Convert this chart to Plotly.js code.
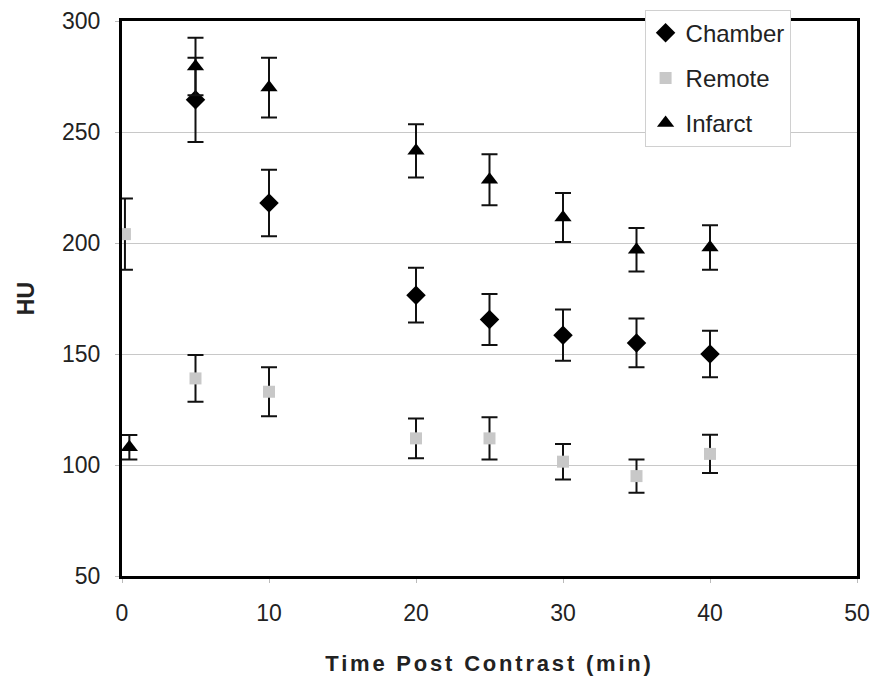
<!DOCTYPE html>
<html>
<head>
<meta charset="utf-8">
<script src="https://cdn.plot.ly/plotly-3.0.1.min.js"></script>
<style>html,body{margin:0;padding:0;background:#fff;}#chart{width:874px;height:677px;}
.xtitle{letter-spacing:2.8px;}</style>
</head>
<body>
<div id="chart"></div>
<script>
// Data
const chamberX = [5, 10, 20, 25, 30, 35, 40];
const chamberY = [264.5, 218, 176.5, 165.5, 158.5, 155, 150];
const chamberErr = [19, 15, 12.3, 11.5, 11.5, 11, 10.5];

const remoteX = [0.2, 5, 10, 20, 25, 30, 35, 40];
const remoteY = [204, 139, 133, 112, 112, 101.5, 95, 105];
const remoteErr = [16, 10.5, 11, 9, 9.5, 8, 7.5, 8.6];

const infarctX = [0.5, 5, 10, 20, 25, 30, 35, 40];
const infarctY = [108, 279.5, 270, 241.5, 228.5, 211.5, 197, 198];
const infarctErr = [5.5, 13, 13.5, 12, 11.5, 11, 9.8, 10];

const errStyle = (arr) => ({type: 'data', array: arr, visible: true, color: '#111', thickness: 2, width: 8});

const traces = [
  {x: chamberX, y: chamberY, name: 'Chamber', mode: 'markers', type: 'scatter', legendgroup: 'a', cliponaxis: false,
   marker: {symbol: 'diamond', size: 15, color: '#000'}, error_y: errStyle(chamberErr)},
  {x: remoteX, y: remoteY, name: 'Remote', mode: 'markers', type: 'scatter', legendgroup: 'b', cliponaxis: false,
   marker: {symbol: 'square', size: 12, color: '#c8c8c8'}, error_y: errStyle(remoteErr)},
  {x: infarctX, y: infarctY, name: 'Infarct', mode: 'markers', type: 'scatter', legendgroup: 'c', cliponaxis: false,
   marker: {symbol: 'triangle-up', size: 15, color: '#000'}, error_y: errStyle(infarctErr)}
];

const layout = {
  width: 874, height: 677,
  margin: {l: 122, r: 17, t: 21, b: 101, autoexpand: false},
  paper_bgcolor: '#fff', plot_bgcolor: '#fff',
  font: {family: '"Liberation Sans", Arial, sans-serif', color: '#222', size: 23},
  showlegend: true,
  legend: {x: 0.711, y: 1.0205, xanchor: 'left', yanchor: 'top', bgcolor: '#fff',
           bordercolor: '#d0d0d0', borderwidth: 1, font: {size: 24, color: '#222'},
           traceorder: 'grouped', tracegroupgap: 11},
  xaxis: {range: [0, 50], dtick: 10, showgrid: false, zeroline: false,
          showline: true, mirror: true, linecolor: '#000', linewidth: 3,
          ticks: 'outside', ticklen: 4, tickcolor: '#bbb', tickfont: {size: 23}, ticklabelstandoff: 10,
          title: {text: '<b>Time Post Contrast (min)</b>', font: {size: 22}, standoff: 32}},
  yaxis: {range: [50, 300], dtick: 50, showgrid: true, gridcolor: '#c8c8c8', gridwidth: 1, zeroline: false,
          showline: true, mirror: true, linecolor: '#000', linewidth: 3,
          ticks: 'outside', ticklen: 4, tickcolor: '#bbb', tickfont: {size: 23}, ticklabelstandoff: 10,
          title: {text: '<b>HU</b>', font: {size: 23}, standoff: 21}}
};

Plotly.newPlot('chart', traces, layout, {displayModeBar: false, staticPlot: true});
</script>
</body>
</html>
